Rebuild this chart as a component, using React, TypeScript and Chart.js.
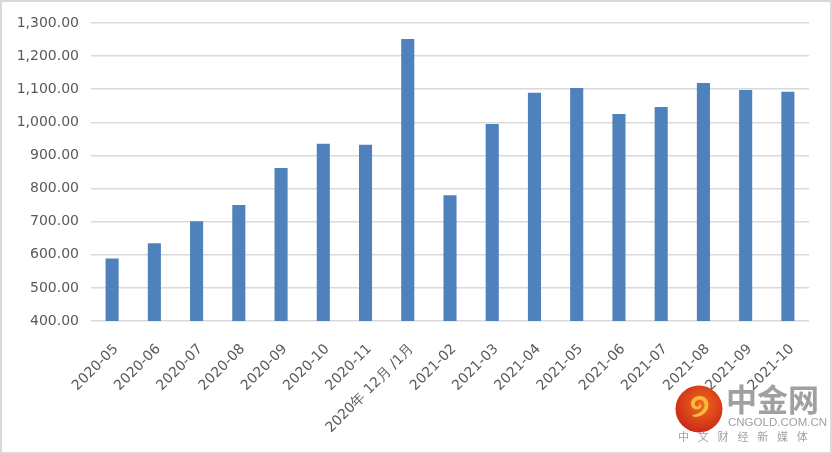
import React, { useEffect, useRef } from "react";
import { Chart, registerables } from "chart.js";

Chart.register(...registerables);

const categories = [
  "2020-05", "2020-06", "2020-07", "2020-08", "2020-09", "2020-10", "2020-11",
  "2020年 12月 /1月", "2021-02", "2021-03", "2021-04", "2021-05", "2021-06",
  "2021-07", "2021-08", "2021-09", "2021-10",
];
const values = [
  589, 635, 701, 750, 862, 935, 932, 1252, 780, 995, 1089, 1104, 1025, 1046,
  1119, 1098, 1092,
];
const yMin = 400;
const yMax = 1300;
const yStep = 100;

export default function App() {
  const ref = useRef<HTMLCanvasElement>(null);
  useEffect(() => {
    if (!ref.current) return;
    const chart = new Chart(ref.current, {
      type: "bar",
      data: {
        labels: categories,
        datasets: [
          {
            data: values,
            backgroundColor: "#4f81bd",
            barPercentage: 0.31,
            categoryPercentage: 1,
          },
        ],
      },
      options: {
        responsive: false,
        animation: false,
        layout: { padding: { top: 23, right: 23, left: 0, bottom: 0 } },
        plugins: { legend: { display: false }, tooltip: { enabled: false } },
        scales: {
          x: {
            grid: { display: false },
            border: { display: false },
            ticks: {
              maxRotation: 45,
              minRotation: 45,
              color: "#595959",
              font: { family: "DejaVu Sans", size: 14 },
              padding: 12,
              labelOffset: 4,
              autoSkip: false,
            },
            afterFit: (s: any) => {
              s.height = 133;
            },
          },
          y: {
            min: yMin,
            max: yMax,
            grid: { color: "#d9d9d9", lineWidth: 1.5, drawTicks: false },
            border: { display: false },
            ticks: {
              stepSize: yStep,
              color: "#595959",
              padding: 12,
              font: { family: "DejaVu Sans", size: 14 },
              callback: (v: any) =>
                Number(v).toLocaleString("en-US", {
                  minimumFractionDigits: 2,
                  maximumFractionDigits: 2,
                }),
            },
            afterFit: (s: any) => {
              s.width = 91;
            },
          },
        },
      },
    });
    return () => chart.destroy();
  }, []);

  return (
    <div
      style={{
        position: "fixed",
        left: 0,
        top: 0,
        width: 832,
        height: 454,
        background: "#fff",
        overflow: "hidden",
      }}
    >
      <canvas ref={ref} width={832} height={454} style={{ display: "block" }} />
      <div
        style={{
          position: "absolute",
          left: 0,
          top: 0,
          width: 832,
          height: 454,
          boxSizing: "border-box",
          border: "2px solid #d9d9d9",
          pointerEvents: "none",
        }}
      />
      <svg
        width={50}
        height={50}
        style={{ position: "absolute", left: 674, top: 384 }}
        viewBox="0 0 50 50"
      >
        <defs>
          <radialGradient id="g" cx="0.55" cy="0.4" r="0.6">
            <stop offset="0" stopColor="#f06a1c" />
            <stop offset="1" stopColor="#cc2a18" />
          </radialGradient>
        </defs>
        <circle cx={25} cy={25} r={23.5} fill="url(#g)" />
        <path
          d="M20 33 C30 33 36 26 34 18 C32 11 22 10 18 16 C15 21 19 27 25 25 C28 24 28 20 25 19 C27 22 23 24 21 21 C20 17 25 14 29 17 C33 21 29 30 18 31 Z"
          fill="#f8b940"
        />
      </svg>
      <div
        style={{
          position: "absolute",
          left: 726,
          top: 378,
          fontFamily: "Noto Sans CJK SC",
          fontWeight: 700,
          fontSize: 31,
          lineHeight: "40px",
          color: "#a0a0a0",
          whiteSpace: "nowrap",
        }}
      >
        中金网
      </div>
      <div
        style={{
          position: "absolute",
          left: 728,
          top: 415,
          fontFamily: "Liberation Sans",
          fontSize: 11.5,
          lineHeight: "14px",
          color: "#a0a0a0",
          whiteSpace: "nowrap",
        }}
      >
        CNGOLD.COM.CN
      </div>
      <div
        style={{
          position: "absolute",
          left: 678,
          top: 429,
          fontFamily: "Noto Sans CJK SC",
          fontSize: 11,
          lineHeight: "15px",
          letterSpacing: 8.8,
          color: "#a0a0a0",
          whiteSpace: "nowrap",
        }}
      >
        中文财经新媒体
      </div>
    </div>
  );
}
